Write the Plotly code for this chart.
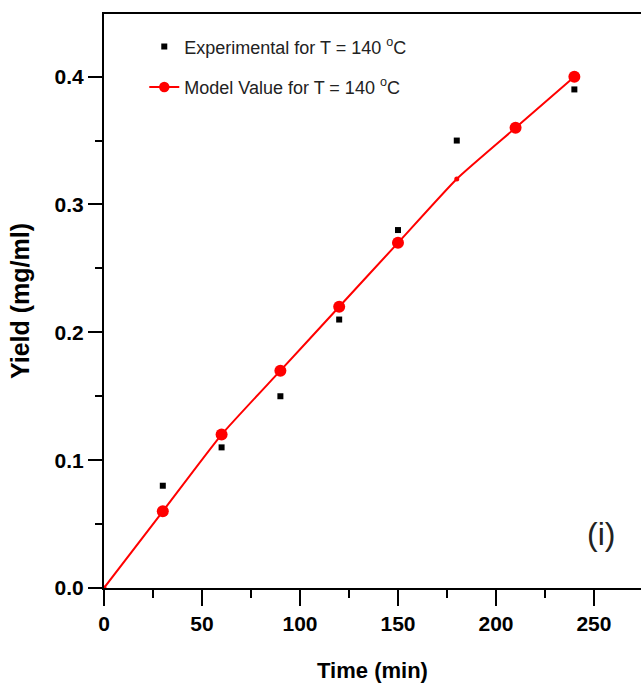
import plotly.graph_objects as go

# Data
exp_time = [30, 60, 90, 120, 150, 180, 240]
exp_yield = [0.08, 0.11, 0.15, 0.21, 0.28, 0.35, 0.39]

model_time = [0, 30, 60, 90, 120, 150, 180, 210, 240]
model_yield = [0.0, 0.06, 0.12, 0.17, 0.22, 0.27, 0.32, 0.36, 0.40]
model_marker_size = [5, 12, 12, 12, 12, 12, 5, 12, 12]

x_ticks = [0, 50, 100, 150, 200, 250]
y_ticks = [0.0, 0.1, 0.2, 0.3, 0.4]
y_tick_labels = ["0.0", "0.1", "0.2", "0.3", "0.4"]

FONT = "Liberation Sans, Arial, sans-serif"

fig = go.Figure()
fig.add_trace(go.Scatter(
    x=exp_time, y=exp_yield, mode="markers",
    name="Experimental for T = 140 <sup>o</sup>C",
    marker=dict(symbol="square", size=6, color="black", opacity=1, line=dict(width=0)),
    legendgroup="a",
))
fig.add_trace(go.Scatter(
    x=model_time, y=model_yield, mode="lines+markers",
    name="Model Value for T = 140 <sup>o</sup>C",
    line=dict(color="#ff0000", width=2, shape="spline", smoothing=0.5),
    marker=dict(symbol="circle", size=model_marker_size, color="#ff0000",
                opacity=1, line=dict(width=0)),
    legendgroup="b",
))

fig.add_annotation(
    x=0.955, y=0.06, xref="paper", yref="paper",
    text="(i)", showarrow=False,
    font=dict(family=FONT, size=32, color="#222222"),
)

tickfont = dict(family=FONT, size=21, color="black", weight="bold")

fig.update_layout(
    width=641, height=693,
    margin=dict(l=104, r=0, t=14, b=105),
    paper_bgcolor="white", plot_bgcolor="white",
    showlegend=True,
    legend=dict(
        x=0.075, y=0.975, xanchor="left", yanchor="top",
        font=dict(family=FONT, size=18, color="#222222"),
        bgcolor="rgba(0,0,0,0)", tracegroupgap=14,
    ),
    xaxis=dict(
        showline=True, linecolor="black", linewidth=2, mirror=True,
        ticks="outside", ticklen=16, tickwidth=2, tickcolor="black",
        showgrid=False, zeroline=False, tickfont=tickfont,
        range=[0, 274], tickvals=x_ticks,
        minor=dict(dtick=25, tick0=0, ticks="outside", ticklen=8, tickwidth=2, tickcolor="black"),
        title=dict(text="Time (min)", standoff=28,
                   font=dict(family=FONT, size=22, color="black", weight="bold")),
    ),
    yaxis=dict(
        showline=True, linecolor="black", linewidth=2,
        ticks="outside", ticklen=14, tickwidth=2, tickcolor="black",
        showgrid=False, zeroline=False, tickfont=tickfont,
        range=[0, 0.449], tickvals=y_ticks, ticktext=y_tick_labels,
        minor=dict(dtick=0.05, tick0=0, ticks="outside", ticklen=7, tickwidth=2, tickcolor="black"),
        title=dict(text="Yield (mg/ml)", standoff=18,
                   font=dict(family=FONT, size=25, color="black", weight="bold")),
    ),
)

fig.write_html("out.html")
